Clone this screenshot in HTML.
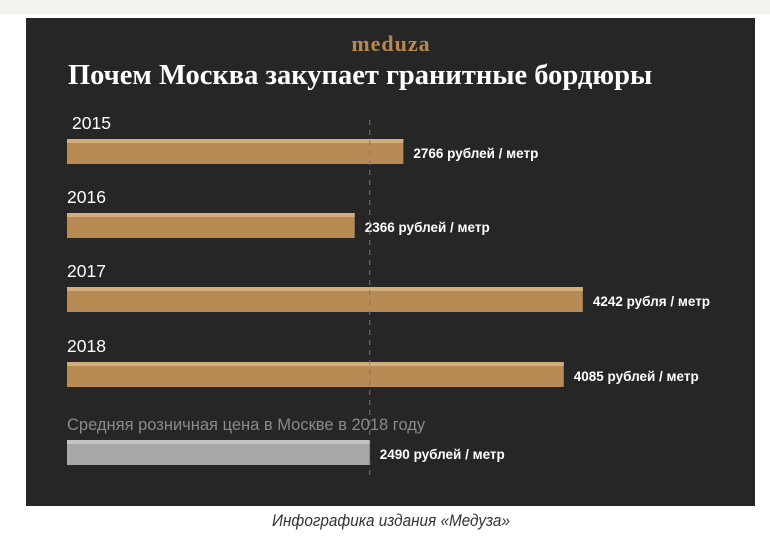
<!DOCTYPE html>
<html><head><meta charset="utf-8"><style>
body{margin:0;width:770px;height:542px;background:#fff;position:relative;overflow:hidden;font-family:"Liberation Sans","DejaVu Sans",sans-serif}
#top{position:absolute;left:0;top:0;width:770px;height:14px;background:#f4f2ee}
#panel{position:absolute;left:26px;top:18px;width:729px;height:488px;background:#262626}
.t{position:absolute;white-space:nowrap}
</style></head><body>
<div id="top"></div>
<div id="panel"></div>
<div class="t" style="left:0;width:782px;text-align:center;top:31px;font-family:'Liberation Serif',serif;font-weight:bold;font-size:22px;color:#b8894f;letter-spacing:1px">meduza</div>
<div class="t" style="left:68px;top:60px;font-family:'Liberation Serif',serif;font-weight:bold;font-size:28.5px;color:#fff">Почем Москва закупает гранитные бордюры</div>
<svg id="chart" width="770" height="542" style="position:absolute;left:0;top:0"></svg>
<div class="t" style="left:0;width:782px;text-align:center;top:511px;font-style:italic;font-size:17px;color:#333;transform:scaleX(0.9)">Инфографика издания «Медуза»</div>
<script>
const labels=["2015","2016","2017","2018","Средняя розничная цена в Москве в 2018 году"];
const values=[2766,2366,4242,4085,2490];
const valueTexts=["2766 рублей / метр","2366 рублей / метр","4242 рубля / метр","4085 рублей / метр","2490 рублей / метр"];
const refValue=2490;
const x0=67,k=0.1216;
const X=v=>x0+v*k;
const barTops=[139,213,287,362,440];
const svg=document.getElementById('chart');
const NS='http://www.w3.org/2000/svg';
function mk(t,a){const e=document.createElementNS(NS,t);for(const q in a)e.setAttribute(q,a[q]);svg.appendChild(e);return e;}
values.forEach((v,i)=>{
 const y=barTops[i];const gray=i===4;
 const b=mk('rect',{x:x0,y:y,width:X(v)-x0,height:25,fill:gray?'#a8a8a8':'#b88a54'});
 
 
 const s=mk('rect',{x:x0,y:y,width:X(v)-x0,height:4,fill:gray?'#c4c4c4':'#d2ad7e'});
 
 
 const l=mk('text',{x:gray?67:(i===0?72:67),y:y-10,fill:gray?'#8a8a8a':'#fff','font-size':gray?16.5:17.5,'font-family':'Liberation Sans, sans-serif'});
 l.textContent=labels[i];
 
 
 const t=mk('text',{x:X(v)+10,y:y+19,fill:'#fff','font-size':13.5,'font-weight':'bold','font-family':'Liberation Sans, sans-serif'});
 t.textContent=valueTexts[i];
 
 
});
const d=mk('line',{x1:X(refValue),x2:X(refValue),y1:120,y2:478,stroke:'#777','stroke-width':1,'stroke-dasharray':'5,5'});


</script>
</body></html>
